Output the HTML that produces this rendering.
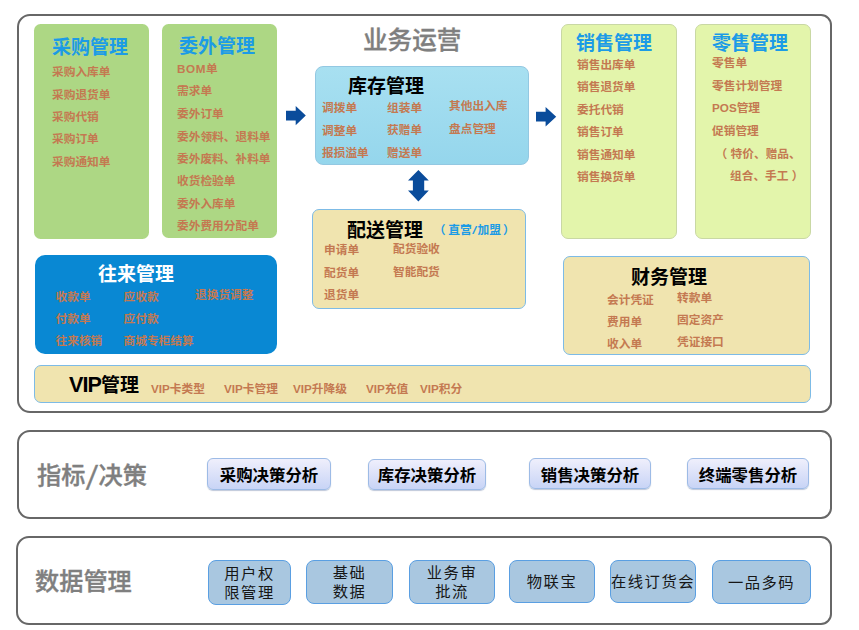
<!DOCTYPE html>
<html lang="zh-CN">
<head>
<meta charset="utf-8">
<title>业务运营</title>
<style>
html,body{margin:0;padding:0;background:#fff;}
body{width:859px;height:630px;position:relative;overflow:hidden;font-family:"Liberation Sans","Noto Sans CJK SC",sans-serif;}
.abs,.box,.frame,.t,.i,.h,.btn,.db{position:absolute;box-sizing:border-box;}
.frame{border:2.2px solid #676767;border-radius:13px 11px 11px 13px;background:#fff;}
.box{border-radius:8px;}
.green{background:#add784;border-radius:6.5px;}
.lime{background:#e3f5ab;border:1px solid #c9d8a4;border-radius:7px;}
.sky{background:linear-gradient(#a8e0f1,#95d6ec);border:1px solid #93c8e2;}
.blue{background:#0988d3;}
.sand{background:#f0e4af;border:1px solid #7dbbe6;border-radius:7px;}
.t{font-weight:bold;font-size:19px;line-height:24px;white-space:nowrap;color:#000;}
.t.b{color:#1c9be6;}
.t.w{color:#fff;}
.i{font-weight:bold;font-size:11.7px;line-height:16px;white-space:nowrap;color:#c47951;}
.h{font-size:24.2px;line-height:30px;color:#7f7f7f;white-space:nowrap;font-weight:500;-webkit-text-stroke:0.35px #7f7f7f;}
.sl{display:inline-block;font-family:"Noto Sans CJK SC",sans-serif;font-weight:400;font-size:25.5px;line-height:0;transform:scaleX(1.3);margin:0 1.6px;position:relative;top:0.5px;}
.sl2{display:inline-block;font-weight:normal;transform:scaleX(1.6);margin:0 1.25px;}
.btn{border:1px solid #9dbbe6;border-radius:6px;background:linear-gradient(#efeffc,#c8d4f6);box-shadow:0 1px 1px rgba(110,130,170,.45);font-weight:bold;font-size:16.4px;line-height:32px;text-align:center;color:#000;white-space:nowrap;}
.db{padding-top:1.5px;border:1.5px solid #5a9fe2;border-radius:8px;background:#a9c7e0;color:#161616;font-size:15.3px;letter-spacing:1.5px;line-height:19px;text-align:center;display:flex;align-items:center;justify-content:center;font-weight:400;}
</style>
</head>
<body>
<!-- frames -->
<div class="frame" style="left:17px;top:14px;width:815px;height:399px;"></div>
<div class="frame" style="left:17px;top:430px;width:815px;height:89px;"></div>
<div class="frame" style="left:16px;top:536px;width:816px;height:89px;"></div>

<!-- 采购管理 -->
<div class="box green" style="left:33.5px;top:24.3px;width:115px;height:214.5px;"></div>
<span class="t b" style="left:52px;top:36px;">采购管理</span>
<span class="i" style="left:52px;top:64px;">采购入库单</span>
<span class="i" style="left:52px;top:87px;">采购退货单</span>
<span class="i" style="left:52px;top:109px;">采购代销</span>
<span class="i" style="left:52px;top:131px;">采购订单</span>
<span class="i" style="left:52px;top:154px;">采购通知单</span>

<!-- 委外管理 -->
<div class="box green" style="left:162px;top:24px;width:115px;height:214px;"></div>
<span class="t b" style="left:179px;top:35px;">委外管理</span>
<span class="i" style="left:177px;top:61px;"><span style="letter-spacing:0.55px">BOM</span>单</span>
<span class="i" style="left:177px;top:83px;">需求单</span>
<span class="i" style="left:177px;top:106px;">委外订单</span>
<span class="i" style="left:177px;top:129px;">委外领料、退料单</span>
<span class="i" style="left:177px;top:151px;">委外废料、补料单</span>
<span class="i" style="left:177px;top:173px;">收货检验单</span>
<span class="i" style="left:177px;top:196px;">委外入库单</span>
<span class="i" style="left:177px;top:218px;">委外费用分配单</span>

<!-- heading -->
<span class="h" style="left:363px;top:26px;font-size:24.6px;">业务运营</span>

<!-- 库存管理 -->
<div class="box sky" style="left:315px;top:66px;width:214px;height:99px;"></div>
<span class="t" style="left:348px;top:74.5px;">库存管理</span>
<span class="i" style="left:322px;top:100px;">调拨单</span>
<span class="i" style="left:322px;top:123px;">调整单</span>
<span class="i" style="left:322px;top:145px;">报损溢单</span>
<span class="i" style="left:387px;top:100px;">组装单</span>
<span class="i" style="left:387px;top:122px;">获赠单</span>
<span class="i" style="left:387px;top:145px;">赠送单</span>
<span class="i" style="left:449px;top:98px;">其他出入库</span>
<span class="i" style="left:449px;top:121px;">盘点管理</span>

<!-- arrows -->
<svg class="abs" style="left:286.2px;top:105.5px;" width="20" height="20" viewBox="0 0 20 20"><path d="M0 4.7H9.7V0L19.8 9.6L9.7 19.2V14.5H0Z" fill="#0a4c9b"/></svg>
<svg class="abs" style="left:535.9px;top:107.4px;" width="21" height="20" viewBox="0 0 21 20"><path d="M0 4.7H9.6V0L20.2 9.7L9.6 19.4V14.6H0Z" fill="#0a4c9b"/></svg>
<svg class="abs" style="left:408.1px;top:169.7px;" width="21" height="32" viewBox="0 0 21 32"><path d="M10.4 0L20.8 10.5H16.2V20.4H20.8L10.4 31.6L0 20.4H4.9V10.5H0Z" fill="#0a4c9b"/></svg>

<!-- 配送管理 -->
<div class="box sand" style="left:312px;top:209px;width:214px;height:100px;"></div>
<span class="t" style="left:347px;top:219px;">配送管理</span>
<span class="i" style="left:433.8px;top:222px;color:#1c9be6;">（<span style="margin-left:2.8px">直营</span><span class="sl2">/</span>加盟<span style="margin-left:2.2px">）</span></span>
<span class="i" style="left:324px;top:242px;">申请单</span>
<span class="i" style="left:324px;top:265px;">配货单</span>
<span class="i" style="left:324px;top:287px;">退货单</span>
<span class="i" style="left:393px;top:241px;">配货验收</span>
<span class="i" style="left:393px;top:264px;">智能配货</span>

<!-- 销售管理 -->
<div class="box lime" style="left:561px;top:24px;width:116px;height:215px;"></div>
<span class="t b" style="left:576px;top:32px;">销售管理</span>
<span class="i" style="left:577px;top:57px;">销售出库单</span>
<span class="i" style="left:577px;top:79px;">销售退货单</span>
<span class="i" style="left:577px;top:102px;">委托代销</span>
<span class="i" style="left:577px;top:124px;">销售订单</span>
<span class="i" style="left:577px;top:147px;">销售通知单</span>
<span class="i" style="left:577px;top:169px;">销售换货单</span>

<!-- 零售管理 -->
<div class="box lime" style="left:695px;top:24px;width:116px;height:215px;"></div>
<span class="t b" style="left:712px;top:32px;">零售管理</span>
<span class="i" style="left:712px;top:55px;">零售单</span>
<span class="i" style="left:712px;top:78px;">零售计划管理</span>
<span class="i" style="left:712px;top:100px;">POS管理</span>
<span class="i" style="left:712px;top:123px;">促销管理</span>
<span class="i" style="left:715.5px;top:146px;">（<span style="margin-left:3.4px">特价、赠品、</span></span>
<span class="i" style="left:730px;top:168px;">组合、手工<span style="margin-left:3.4px">）</span></span>

<!-- 往来管理 -->
<div class="box blue" style="left:35px;top:255px;width:242.4px;height:99px;border-radius:10px;"></div>
<span class="t w" style="left:98px;top:263px;">往来管理</span>
<span class="i" style="left:55.5px;top:289px;">收款单</span>
<span class="i" style="left:55.5px;top:311px;">付款单</span>
<span class="i" style="left:55.5px;top:333px;">往来核销</span>
<span class="i" style="left:123.5px;top:289px;">应收款</span>
<span class="i" style="left:123.5px;top:311px;">应付款</span>
<span class="i" style="left:123.5px;top:333px;">商城专柜结算</span>
<span class="i" style="left:195px;top:287px;">退换货调整</span>

<!-- 财务管理 -->
<div class="box sand" style="left:563px;top:256px;width:247px;height:99px;"></div>
<span class="t" style="left:631px;top:266px;">财务管理</span>
<span class="i" style="left:607px;top:292px;">会计凭证</span>
<span class="i" style="left:607px;top:314px;">费用单</span>
<span class="i" style="left:607px;top:336px;">收入单</span>
<span class="i" style="left:677px;top:290px;">转款单</span>
<span class="i" style="left:677px;top:312px;">固定资产</span>
<span class="i" style="left:677px;top:334px;">凭证接口</span>

<!-- VIP管理 -->
<div class="box sand" style="left:34px;top:365px;width:777px;height:38px;"></div>
<span class="t" style="left:69px;top:374px;"><span style="font-size:21.6px;letter-spacing:-0.9px;line-height:0;">VIP</span>管理</span>
<span class="i" style="left:151px;top:381px;">VIP卡类型</span>
<span class="i" style="left:224px;top:381px;">VIP卡管理</span>
<span class="i" style="left:293px;top:381px;">VIP升降级</span>
<span class="i" style="left:366px;top:381px;">VIP充值</span>
<span class="i" style="left:420px;top:381px;">VIP积分</span>

<!-- 指标/决策 -->
<span class="h" style="left:37px;top:461px;">指标<span class="sl">/</span>决策</span>
<div class="btn" style="left:207px;top:458px;width:124px;height:32px;">采购决策分析</div>
<div class="btn" style="left:368px;top:459px;width:118px;height:31px;line-height:30px;">库存决策分析</div>
<div class="btn" style="left:529px;top:458px;width:122px;height:31px;">销售决策分析</div>
<div class="btn" style="left:687px;top:458px;width:122px;height:31px;">终端零售分析</div>

<!-- 数据管理 -->
<span class="h" style="left:35px;top:566.5px;">数据管理</span>
<div class="db" style="left:208px;top:559.5px;width:83px;height:45px;">用户权<br>限管理</div>
<div class="db" style="left:306px;top:559.5px;width:87px;height:44px;">基础<br>数据</div>
<div class="db" style="left:409px;top:559.5px;width:86px;height:44px;">业务审<br>批流</div>
<div class="db" style="left:509px;top:559.5px;width:86px;height:43px;">物联宝</div>
<div class="db" style="left:610px;top:559.5px;width:86px;height:43px;">在线订货会</div>
<div class="db" style="left:712px;top:559.5px;width:99px;height:44px;">一品多码</div>
</body>
</html>
